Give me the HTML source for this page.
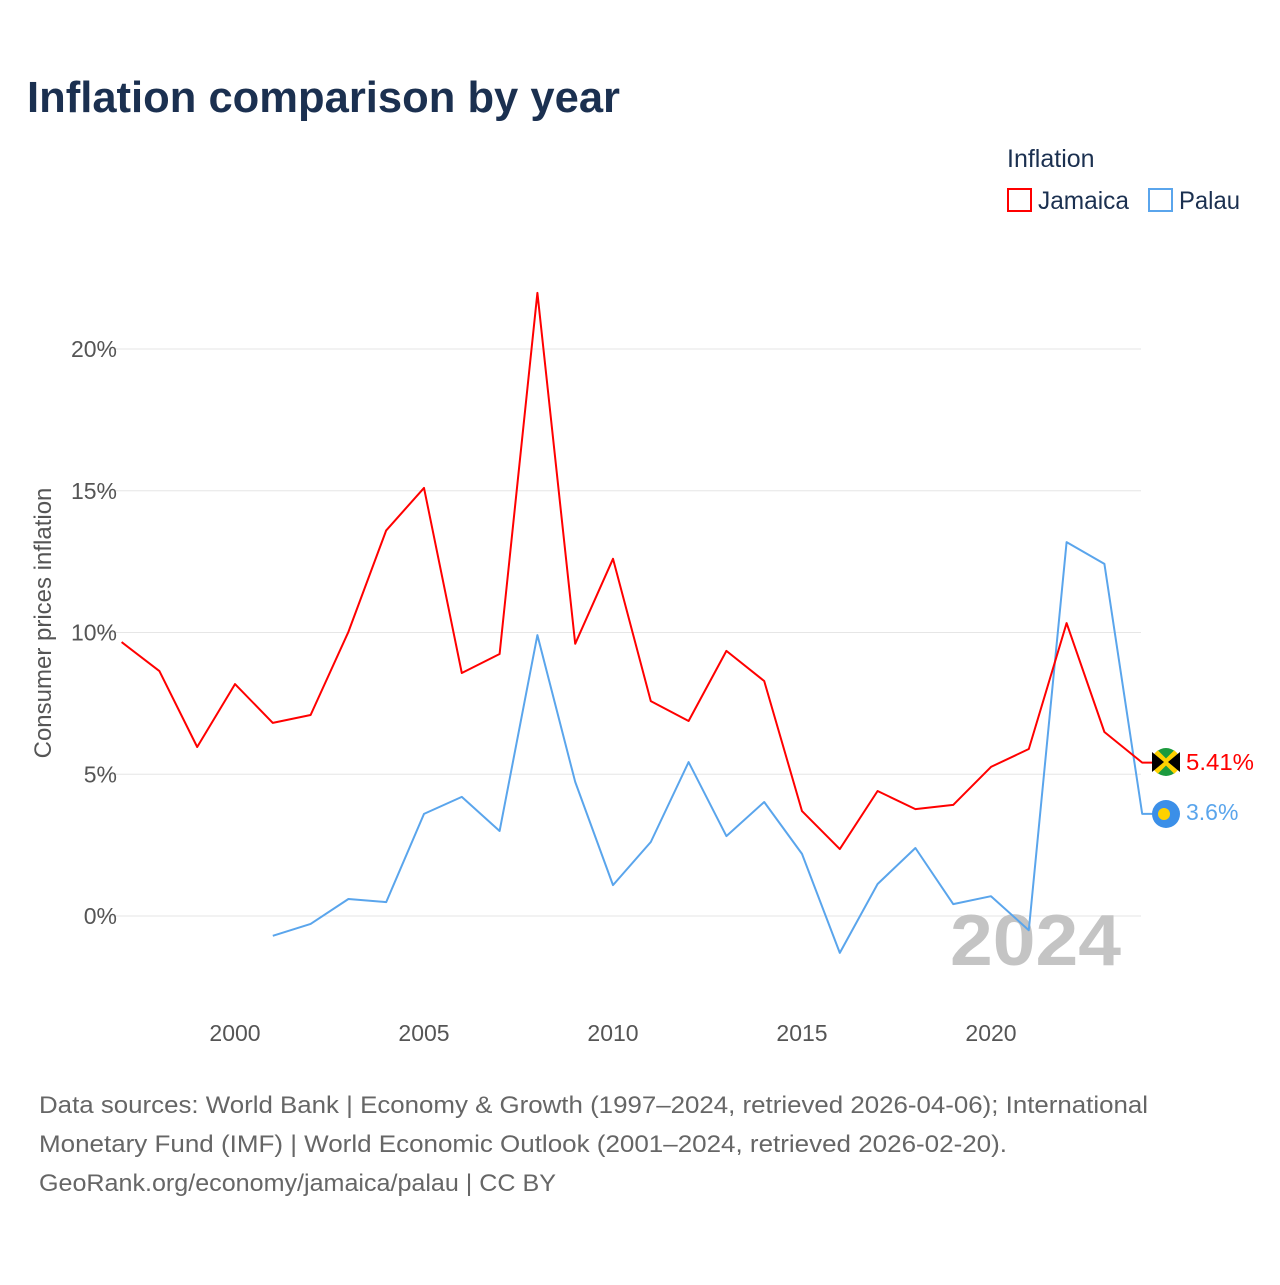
<!DOCTYPE html>
<html><head><meta charset="utf-8"><style>
body{margin:0;background:#fff;font-family:"Liberation Sans",sans-serif}
svg text{font-family:"Liberation Sans",sans-serif}
</style></head><body>
<svg width="1280" height="1280" viewBox="0 0 1280 1280">
<text x="27" y="112" font-size="44" font-weight="bold" fill="#1b3050" textLength="593" lengthAdjust="spacingAndGlyphs">Inflation comparison by year</text>
<text x="1007" y="167" font-size="25" fill="#1b3050">Inflation</text>
<g><rect x="1008" y="189" width="23" height="22" fill="none" stroke="#ff0000" stroke-width="2"/><text x="1038" y="209" font-size="25" fill="#1b3050" textLength="91" lengthAdjust="spacingAndGlyphs">Jamaica</text></g>
<g><rect x="1149" y="189" width="23" height="22" fill="none" stroke="#5aa5ec" stroke-width="2"/><text x="1179" y="209" font-size="25" fill="#1b3050" textLength="61" lengthAdjust="spacingAndGlyphs">Palau</text></g>
<g id="grid"></g>
<g id="yticks"></g>
<g id="xticks"></g>
<text transform="translate(51,623) rotate(-90)" text-anchor="middle" font-size="24" fill="#555">Consumer prices inflation</text>
<text x="950" y="965" font-size="72" font-weight="bold" fill="#c4c4c4" textLength="171" lengthAdjust="spacingAndGlyphs">2024</text>
<g id="series"></g>
<g><circle cx="1166" cy="762" r="14" fill="#1c9a3e"/><path d="M1156 752 L1176 772 M1176 752 L1156 772" stroke="#fed100" stroke-width="5"/><path d="M1152 752 L1164 762 L1152 772Z M1180 752 L1168 762 L1180 772Z" fill="#000"/></g>
<g><circle cx="1166" cy="814" r="14" fill="#3b8fe8"/><circle cx="1164" cy="814" r="6" fill="#fed100"/></g>
<text x="1186" y="770" font-size="23" fill="#ff0000" textLength="68" lengthAdjust="spacingAndGlyphs">5.41%</text>
<text x="1186" y="820" font-size="23" fill="#5aa5ec">3.6%</text>
<g font-size="24" fill="#666">
<text x="39" y="1113" textLength="1109" lengthAdjust="spacingAndGlyphs">Data sources: World Bank | Economy &amp; Growth (1997–2024, retrieved 2026-04-06); International</text>
<text x="39" y="1152" textLength="968" lengthAdjust="spacingAndGlyphs">Monetary Fund (IMF) | World Economic Outlook (2001–2024, retrieved 2026-02-20).</text>
<text x="39" y="1191" textLength="517" lengthAdjust="spacingAndGlyphs">GeoRank.org/economy/jamaica/palau | CC BY</text>
</g>
</svg>
<script>
const years=[1997,1998,1999,2000,2001,2002,2003,2004,2005,2006,2007,2008,2009,2010,2011,2012,2013,2014,2015,2016,2017,2018,2019,2020,2021,2022,2023,2024];
const jamaica=[9.66,8.64,5.96,8.18,6.81,7.09,10.02,13.6,15.1,8.57,9.24,21.98,9.6,12.6,7.58,6.88,9.35,8.29,3.7,2.36,4.41,3.77,3.92,5.26,5.89,10.33,6.49,5.41];
const palau=[null,null,null,null,-0.7,-0.28,0.6,0.49,3.6,4.2,3.0,9.91,4.73,1.09,2.61,5.43,2.82,4.02,2.19,-1.3,1.13,2.4,0.42,0.7,-0.5,13.19,12.42,3.6];
const yTicks=[0,5,10,15,20];
const xTicks=[2000,2005,2010,2015,2020];
const NS="http://www.w3.org/2000/svg";
const X=y=>235+(y-2000)*37.8;
const Y=v=>916-v*28.35;
function mk(t,a,p){const e=document.createElementNS(NS,t);for(const k in a)e.setAttribute(k,a[k]);p.appendChild(e);return e;}
const grid=document.getElementById('grid'),yt=document.getElementById('yticks'),xt=document.getElementById('xticks'),se=document.getElementById('series');
yTicks.forEach(v=>{
 const l=mk('line',{x1:98,x2:1141,y1:Y(v),y2:Y(v),stroke:'#e6e6e6','stroke-width':1},grid);
 
 
 const t=mk('text',{x:117,y:Y(v)+8,'text-anchor':'end','font-size':23,fill:'#555'},yt);
 t.textContent=v+'%';
 
 
});
xTicks.forEach(v=>{
 const t=mk('text',{x:X(v),y:1041,'text-anchor':'middle','font-size':23,fill:'#555'},xt);
 t.textContent=v;
 
 
});
function line(vals,color,name){
 let d='',last=null;
 vals.forEach((v,i)=>{if(v==null)return;d+=(d?'L':'M')+X(years[i]).toFixed(1)+' '+Y(v).toFixed(1);last=v;});
 d+='L'+(X(years[years.length-1])+10)+' '+Y(last).toFixed(1);
 const p=mk('path',{d:d,fill:'none',stroke:color,'stroke-width':2,'stroke-linejoin':'round'},se);
 
 
}
line(palau,'#5aa5ec','palau-line');
line(jamaica,'#ff0000','jamaica-line');
</script>
</body></html>
